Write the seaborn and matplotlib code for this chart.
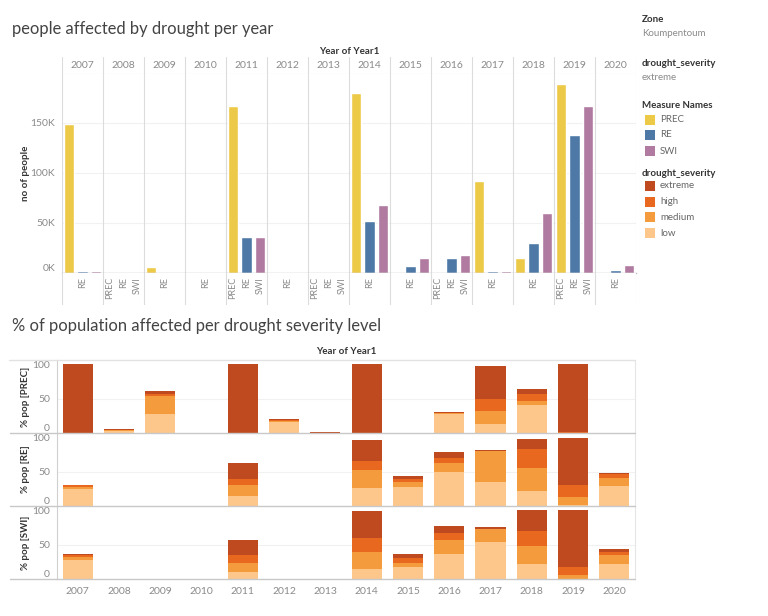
import numpy as np
import pandas as pd
import matplotlib
matplotlib.use("Agg")
import matplotlib.pyplot as plt
import seaborn as sns
from matplotlib.lines import Line2D
from matplotlib.patches import Rectangle
from matplotlib.ticker import FuncFormatter

# ---------------- data ----------------
years = [str(y) for y in range(2007, 2021)]
measures = ["PREC", "RE", "SWI"]

# people affected (extreme severity), in people
prec_people = [149000, 0, 6000, 0, 167000, 0, 0, 180000, 0, 0, 92000, 15000, 189000, 0]
re_people = [1600, 0, 0, 0, 36000, 0, 0, 52000, 7000, 15000, 1600, 30000, 138000, 2800]
swi_people = [1600, 0, 0, 0, 36000, 0, 0, 68000, 15000, 18000, 1600, 60000, 167000, 8000]

# years whose measure labels show all three names (others show only "RE")
full_label_years = ["2008", "2011", "2013", "2016", "2019"]

severities = ["extreme", "high", "medium", "low"]

# % of population per severity level
prec_low = [0, 3, 27, 0, 0, 16.5, 0, 0, 0, 27.7, 12.6, 40, 0, 0]
prec_medium = [0, 1, 27, 0, 0, 1, 0, 0, 0, 1, 20, 6, 0.5, 0]
prec_high = [0, 0.5, 3, 0, 0, 1.5, 0.5, 0, 0, 0.5, 16.5, 10, 1.5, 0]
prec_extreme = [100, 1, 4, 0, 100, 1, 1, 100, 0, 1.5, 48, 8, 98, 0]

re_low = [25, 0, 0, 0, 13.8, 0, 0, 25.7, 27.6, 49.5, 34.3, 22.4, 2, 28.6]
re_medium = [3, 0, 0, 0, 16.2, 0, 0, 26.2, 6.7, 12.9, 45, 33.3, 10.5, 12]
re_high = [2, 0, 0, 0, 9.5, 0, 0, 12.9, 4.8, 7, 0.5, 27.1, 18, 6]
re_extreme = [1, 0, 0, 0, 22.9, 0, 0, 30.5, 4.3, 9, 1.4, 15.2, 67.6, 1]

swi_low = [27, 0, 0, 0, 9.7, 0, 0, 14.1, 17, 36.4, 53.4, 22.3, 0.5, 21.4]
swi_medium = [4.4, 0, 0, 0, 13.1, 0, 0, 24.8, 5.8, 19.9, 19.4, 25.2, 4.8, 13.1]
swi_high = [3.4, 0, 0, 0, 11.7, 0, 0, 20.4, 7.3, 10.7, 0.5, 22.3, 11.7, 5.3]
swi_extreme = [2, 0, 0, 0, 21.8, 0, 0, 38.8, 6.3, 9.7, 2.4, 31, 83, 3.9]

# ---------------- style ----------------
measure_colors = {"PREC": "#EDC948", "RE": "#4E79A7", "SWI": "#B07AA1"}
sev_colors = {"extreme": "#C04A1F", "high": "#E8681F", "medium": "#F39B3D", "low": "#FDC78C"}

sns.set_style("white")
plt.rcParams["font.family"] = ["Lato", "DejaVu Sans"]

W, H = 768, 616
fig = plt.figure(figsize=(W / 100, H / 100), dpi=100)


def fx(px):
    return px / W


def fy(py):
    return 1 - py / H


def add_axes_px(left, top, right, bottom):
    return fig.add_axes([fx(left), fy(bottom), fx(right - left), (bottom - top) / H])


TICK_C = "#8a8a8a"
SEP_C = "#dcdcdc"
DARK = "#333333"
TITLE_C = "#444444"

# ---------------- top chart ----------------
df_top = pd.DataFrame({
    "year": years * 3,
    "measure": ["PREC"] * 14 + ["RE"] * 14 + ["SWI"] * 14,
    "value": prec_people + re_people + swi_people,
})

L1, R1 = 62, 636
ax_head = add_axes_px(L1, 57, R1, 74)
ax_top = add_axes_px(L1, 74, R1, 273)
ax_lab = add_axes_px(L1, 273, R1, 305)

sns.barplot(data=df_top, x="year", y="value", hue="measure", order=years,
            hue_order=measures, palette=measure_colors, saturation=1,
            width=1.0, gap=0.22, errorbar=None, legend=False, ax=ax_top)
ax_top.set_xlim(-0.5, len(years) - 0.5)
ax_top.set_ylim(0, 199000)
ax_top.set_yticks([0, 50000, 100000, 150000])
ax_top.yaxis.set_major_formatter(FuncFormatter(lambda v, p: f"{v/1000:.0f}K"))
ax_top.tick_params(axis="y", labelsize=7.5, colors=TICK_C, length=0, pad=5)
ax_top.set_xticks([])
ax_top.set_xlabel("")
ax_top.set_ylabel("no of people", fontsize=7, fontweight="bold", color=DARK, labelpad=0)
for v in [50000, 100000, 150000]:
    ax_top.axhline(v, color="#f1f1f1", lw=0.8, zorder=0)
for lbl in ax_top.get_yticklabels():
    if lbl.get_text() == "0K":
        lbl.set_va("bottom")
for s in ["top", "right", "left"]:
    ax_top.spines[s].set_visible(False)
ax_top.spines["bottom"].set_color("#bdbdbd")
ax_top.spines["bottom"].set_linewidth(1.0)

for ax in (ax_head, ax_lab):
    ax.set_xlim(-0.5, len(years) - 0.5)
    ax.set_ylim(0, 1)
    ax.set_xticks([])
    ax.set_yticks([])
    for s in ax.spines.values():
        s.set_visible(False)
ax_head.axhline(0, color=SEP_C, lw=0.8)

for i, y in enumerate(years):
    ax_head.text(i, 0.5, y, ha="center", va="center", fontsize=7.5, color=TICK_C)
    if y in full_label_years:
        for off, m in zip([-1 / 3, 0, 1 / 3], measures):
            ax_lab.text(i + off, 0.88, m, rotation=90, ha="center", va="top",
                        fontsize=6.5, color=TICK_C)
    else:
        ax_lab.text(i, 0.88, "RE", rotation=90, ha="center", va="top",
                    fontsize=6.5, color=TICK_C)

for ax in (ax_head, ax_top, ax_lab):
    for k in range(len(years) + 1):
        ax.axvline(k - 0.5, color=SEP_C, lw=0.8, zorder=0)

fig.text(fx((L1 + R1) / 2), fy(52), "Year of Year1", ha="center", va="center",
         fontsize=7, fontweight="bold", color=DARK)
fig.text(fx(12), fy(29), "people affected by drought per year", ha="left", va="center",
         fontsize=11.9, color=TITLE_C)

# ---------------- bottom chart ----------------
fig.text(fx(12), fy(326), "% of population affected per drought severity level",
         ha="left", va="center", fontsize=11.9, color=TITLE_C)
fig.text(fx(346), fy(352), "Year of Year1", ha="center", va="center",
         fontsize=7, fontweight="bold", color=DARK)

L2, R2 = 57, 635
rows = [
    ("PREC", prec_low, prec_medium, prec_high, prec_extreme, 360, 433),
    ("RE", re_low, re_medium, re_high, re_extreme, 433, 506),
    ("SWI", swi_low, swi_medium, swi_high, swi_extreme, 506, 579),
]
for name, low, med, high, ext, top, bot in rows:
    ax = add_axes_px(L2, top, R2, bot)
    low = np.array(low)
    c_med = low + np.array(med)
    c_high = c_med + np.array(high)
    c_ext = c_high + np.array(ext)
    for vals, sev in [(c_ext, "extreme"), (c_high, "high"), (c_med, "medium"), (low, "low")]:
        sns.barplot(x=years, y=vals, order=years, color=sev_colors[sev], saturation=1,
                    width=0.73, errorbar=None, ax=ax, linewidth=0)
    ax.set_xlim(-0.5, len(years) - 0.5)
    ax.set_ylim(0, 106)
    ax.set_yticks([0, 50, 100])
    ax.tick_params(axis="y", labelsize=7.5, colors=TICK_C, length=0, pad=5)
    for lbl in ax.get_yticklabels():
        if lbl.get_text() == "0":
            lbl.set_va("bottom")
    ax.axhline(50, color="#f1f1f1", lw=0.8, zorder=0)
    ax.set_ylabel(f"% pop [{name}]", fontsize=7, fontweight="bold", color=DARK, labelpad=2)
    ax.set_xlabel("")
    if name == "SWI":
        ax.tick_params(axis="x", labelsize=7.5, colors=TICK_C, length=0, pad=6)
    else:
        ax.set_xticklabels([])
        ax.tick_params(axis="x", length=0)
    ax.spines["top"].set_visible(False)
    ax.spines["bottom"].set_visible(False)
    ax.spines["left"].set_color("#d0d0d0")
    ax.spines["right"].set_color("#e6e6e6")
    ax.spines["left"].set_linewidth(0.8)
    ax.spines["right"].set_linewidth(0.8)
    # separating line under each panel (runs into the label area)
    fig.add_artist(Line2D([fx(10), fx(R2)], [fy(bot), fy(bot)], color="#c8c8c8", lw=1.0))

fig.add_artist(Line2D([fx(9), fx(R2)], [fy(359.5), fy(359.5)], color="#e2e2e2", lw=1.0))

# ---------------- legend panel ----------------
LX = 642
fig.text(fx(LX), fy(19), "Zone", fontsize=7, fontweight="bold", color=DARK, va="center")
fig.text(fx(LX), fy(33), "Koumpentoum", fontsize=7, color=TICK_C, va="center")
fig.text(fx(LX), fy(63), "drought_severity", fontsize=7, fontweight="bold", color=DARK, va="center")
fig.text(fx(LX), fy(77), "extreme", fontsize=7, color=TICK_C, va="center")
fig.text(fx(LX), fy(106), "Measure Names", fontsize=7, fontweight="bold", color=DARK, va="center")
for k, m in enumerate(measures):
    yy = [120, 135, 151][k]
    fig.add_artist(Rectangle((fx(645), fy(yy + 5)), fx(10), 10 / H,
                             facecolor=measure_colors[m], edgecolor="none"))
    fig.text(fx(660), fy(yy), m, fontsize=7, color="#666666", va="center")
fig.text(fx(LX), fy(173), "drought_severity", fontsize=7, fontweight="bold", color=DARK, va="center")
for k, s in enumerate(severities):
    yy = [186, 202, 217, 233][k]
    fig.add_artist(Rectangle((fx(645), fy(yy + 5)), fx(10), 10 / H,
                             facecolor=sev_colors[s], edgecolor="none"))
    fig.text(fx(660), fy(yy), s, fontsize=7, color="#666666", va="center")

fig.savefig("out.png", dpi=100, facecolor="white")
